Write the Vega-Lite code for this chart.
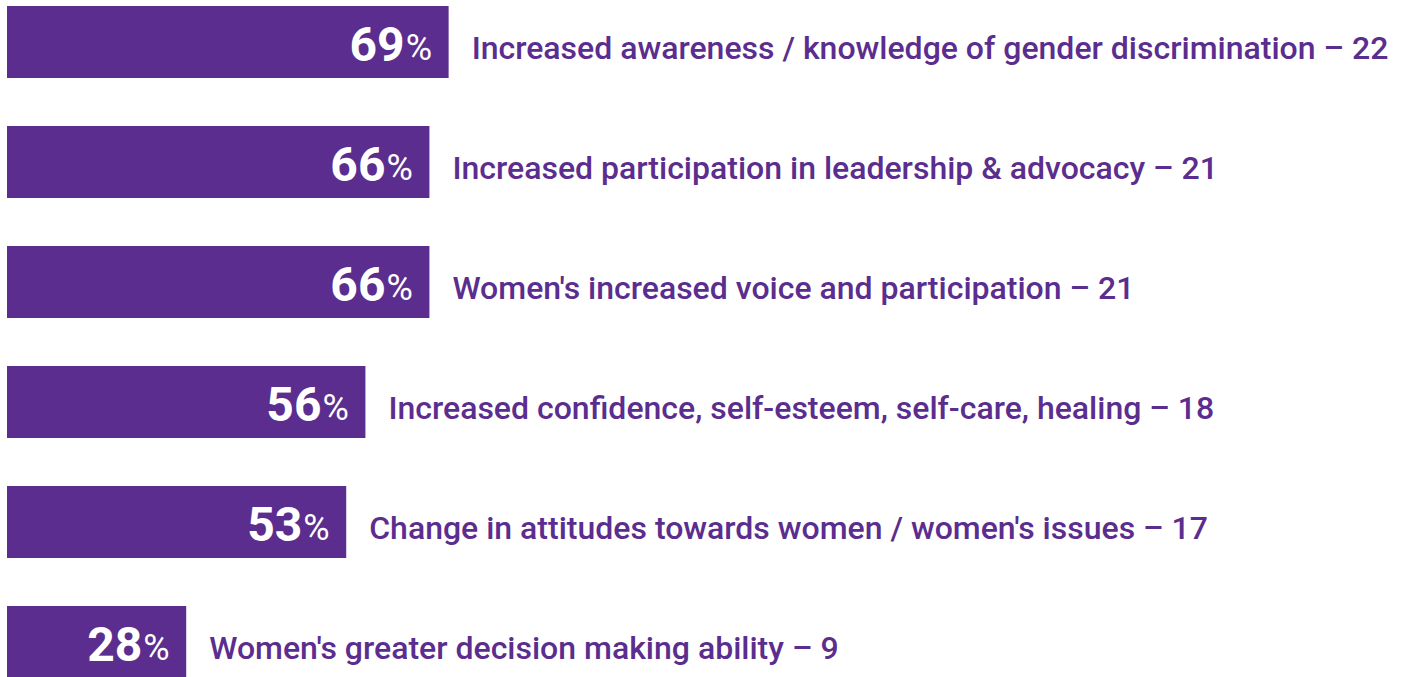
{
  "$schema": "https://vega.github.io/schema/vega-lite/v6.json",
  "width": 1394,
  "height": 684,
  "autosize": {"type": "none"},
  "padding": {"left": 7, "top": 0, "right": 0, "bottom": 0},
  "background": "white",
  "config": {"view": {"stroke": null}},
  "data": {
    "values": [
      {"order": 1, "category": "Increased awareness / knowledge of gender discrimination", "label": "Increased awareness / knowledge of gender discrimination – 22", "pct": 69, "count": 22},
      {"order": 2, "category": "Increased participation in leadership & advocacy", "label": "Increased participation in leadership & advocacy – 21", "pct": 66, "count": 21},
      {"order": 3, "category": "Women's increased voice and participation", "label": "Women's increased voice and participation – 21", "pct": 66, "count": 21},
      {"order": 4, "category": "Increased confidence, self-esteem, self-care, healing", "label": "Increased confidence, self-esteem, self-care, healing – 18", "pct": 56, "count": 18},
      {"order": 5, "category": "Change in attitudes towards women / women's issues", "label": "Change in attitudes towards women / women's issues – 17", "pct": 53, "count": 17},
      {"order": 6, "category": "Women's greater decision making ability", "label": "Women's greater decision making ability – 9", "pct": 28, "count": 9}
    ]
  },
  "encoding": {
    "y": {
      "field": "category",
      "type": "nominal",
      "sort": {"field": "order", "order": "ascending"},
      "scale": {"paddingInner": 0.4, "paddingOuter": 0.05},
      "axis": null
    },
    "x": {
      "field": "pct",
      "type": "quantitative",
      "scale": {"domain": [0, 217.8], "nice": false, "zero": true},
      "axis": null
    }
  },
  "layer": [
    {"mark": {"type": "bar", "color": "#5B2D8E", "cornerRadius": 0}},
    {
      "mark": {"type": "text", "align": "right", "baseline": "alphabetic", "dx": -44, "dy": 19, "font": "Roboto", "fontSize": 48, "fontWeight": "bold", "color": "white"},
      "encoding": {"text": {"field": "pct", "type": "quantitative"}}
    },
    {
      "mark": {"type": "text", "align": "left", "baseline": "alphabetic", "dx": -43, "dy": 18, "font": "Roboto", "fontSize": 36, "fontWeight": "normal", "color": "white", "text": "%"}
    },
    {
      "mark": {"type": "text", "align": "left", "baseline": "alphabetic", "dx": 23, "dy": 17, "font": "Roboto", "fontSize": 32, "fontWeight": 500, "color": "#5B2D8E"},
      "encoding": {"text": {"field": "label", "type": "nominal"}}
    }
  ]
}
